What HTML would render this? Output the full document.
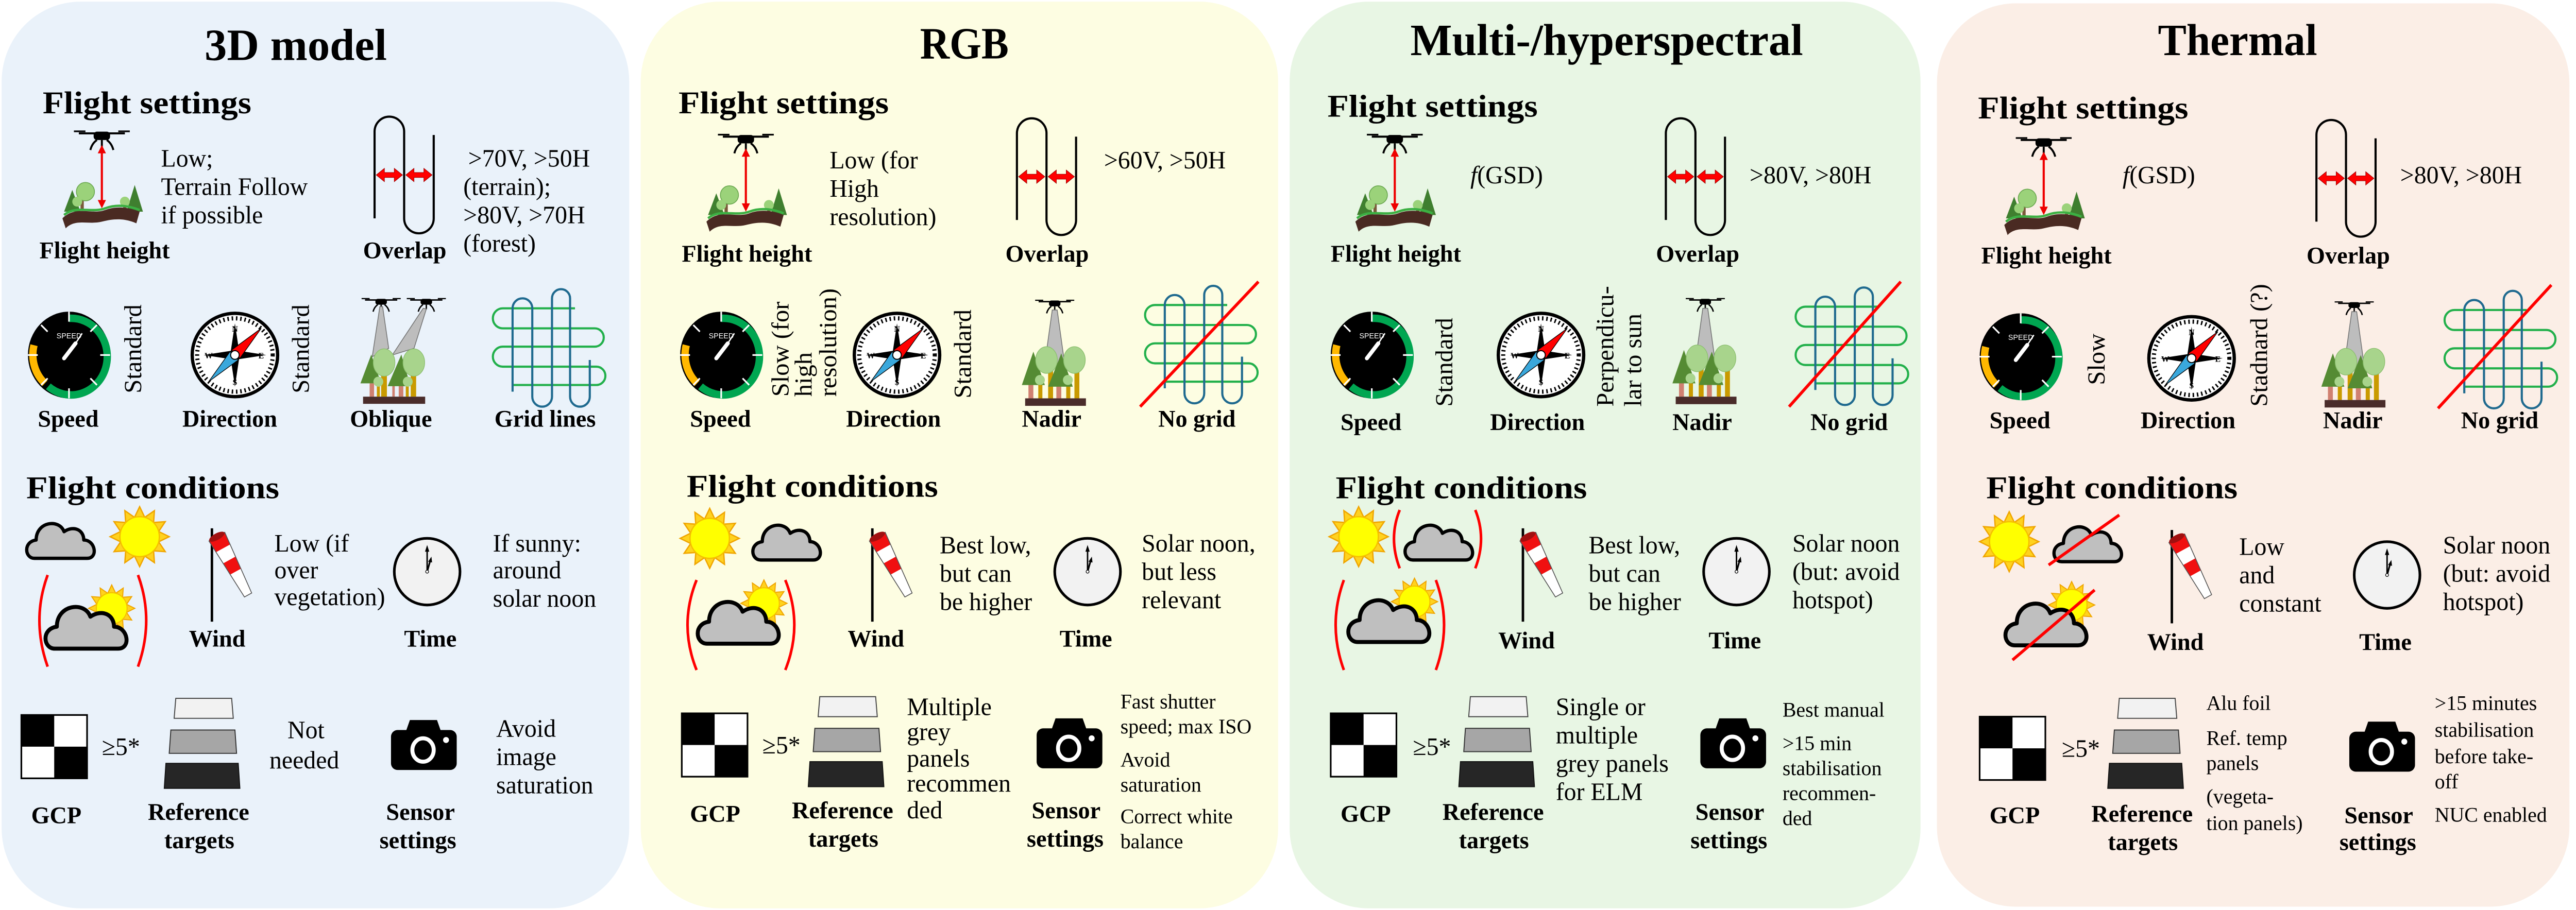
<!DOCTYPE html>
<html><head><meta charset="utf-8"><style>
html,body{margin:0;padding:0;background:#fff;width:100%;height:100%;overflow:hidden;}
svg{display:block;width:100vw;height:100vh;}
text{font-family:"Liberation Serif",serif;fill:#000;}
.t{font-size:27px;font-weight:bold;}
.h{font-size:19px;font-weight:bold;}
.l{font-size:14.5px;font-weight:bold;}
.b{font-size:15px;}
.s{font-size:12.5px;}
</style></head><body>
<svg viewBox="0 0 1568 546" preserveAspectRatio="none" xmlns="http://www.w3.org/2000/svg">
<defs>
<g id="drone">
<line x1="-14" y1="0" x2="14" y2="0" stroke="#000" stroke-width="1.2"/>
<line x1="-17" y1="-1.2" x2="-10" y2="-1.2" stroke="#000" stroke-width="1"/>
<line x1="10" y1="-1.2" x2="17" y2="-1.2" stroke="#000" stroke-width="1"/>
<rect x="-5" y="-1" width="10" height="5" rx="2" fill="#000"/>
<path d="M-3 4 Q-6 6 -7 10 M3 4 Q6 6 7 10 M0 4 V8" stroke="#000" stroke-width="1.2" fill="none"/>
</g>
<g id="height">
<use href="#drone"/>
<line x1="0" y1="10" x2="0" y2="42" stroke="#e00" stroke-width="1.3"/>
<polygon points="0,7 -2.5,12 2.5,12" fill="#e00"/>
<polygon points="0,45 -2.5,40 2.5,40" fill="#e00"/>
<rect x="-13" y="38" width="2" height="8" fill="#7a5a3a"/>
<rect x="13" y="40" width="2" height="7" fill="#7a5a3a"/>
<polygon points="-23,47 -18,34 -13,47" fill="#3f7f2f"/>
<circle cx="-10" cy="35" r="5.5" fill="#9bd27a" stroke="#6aa84f" stroke-width="0.5"/>
<circle cx="-15" cy="41" r="3" fill="#9bd27a"/>
<polygon points="15,47 20,31 25,47" fill="#3f7f2f"/>
<circle cx="14" cy="41" r="3" fill="#9bd27a"/>
<path d="M-24 51 C-16 43 -6 49 2 46 C10 43 18 45 23 47 L21 54 C14 51 8 51 0 53 C-8 55 -16 51 -22 57 Z" fill="#4a2a22"/>
<path d="M-23 49 C-16 43 -6 48 2 45 C10 42 18 44 23 46" stroke="#3cb043" stroke-width="1.4" fill="none"/>
</g>
<g id="overlap">
<path d="M0 61 V9 A9 9 0 0 1 18 9 V61 A9 9 0 0 0 36 61 V11" fill="none" stroke="#000" stroke-width="1.3"/>
<polygon points="1,35 6,31 6,33.5 12,33.5 12,31 17,35 12,39 12,36.5 6,36.5 6,39" fill="#f00" stroke="#900" stroke-width="0.3"/>
<polygon points="19,35 24,31 24,33.5 30,33.5 30,31 35,35 30,39 30,36.5 24,36.5 24,39" fill="#f00" stroke="#900" stroke-width="0.3"/>
</g>
<g id="gauge">
<ellipse cx="0" cy="0" rx="25" ry="26" fill="#000"/>
<path d="M0 -22 A22 23 0 1 1 -12.6 18.8" fill="none" stroke="#00a651" stroke-width="4.5"/>
<path d="M-14.7 17 A22 23 0 0 1 -21.3 -5.9" fill="none" stroke="#ffb800" stroke-width="4.5"/>
<g stroke="#fff" stroke-width="1">
<line x1="0" y1="-26" x2="0" y2="-20"/><line x1="0" y1="26" x2="0" y2="20"/>
<line x1="25" y1="0" x2="19" y2="0"/><line x1="-25" y1="0" x2="-19" y2="0"/>
<line x1="17" y1="-18" x2="13" y2="-14"/><line x1="17" y1="18" x2="13" y2="14"/>
<line x1="-17" y1="18" x2="-13" y2="14"/><line x1="-17" y1="-18" x2="-13" y2="-14"/>
</g>
<text x="0" y="-10" text-anchor="middle" style="font-family:'Liberation Sans',sans-serif;font-size:4.5px;fill:#fff">SPEED</text>
<line x1="-3" y1="2" x2="4" y2="-7" stroke="#fff" stroke-width="2.4" stroke-linecap="round"/>
<line x1="4" y1="-7" x2="8" y2="-13" stroke="#fff" stroke-width="0.8"/>
</g>
<g id="compass">
<ellipse cx="0" cy="0" rx="26" ry="25" fill="#fff" stroke="#000" stroke-width="2"/>
<ellipse cx="0" cy="0" rx="23" ry="22" fill="none" stroke="#000" stroke-width="2.5" stroke-dasharray="0.9 1.7"/>
<polygon points="0,-19 2.5,-2.5 19,0 2.5,2.5 0,19 -2.5,2.5 -19,0 -2.5,-2.5" fill="#000"/>
<polygon points="16,-16 3,2 -2,-3" fill="#f00" stroke="#000" stroke-width="0.4"/>
<polygon points="-16,16 -3,-2 2,3" fill="#3aa8dc" stroke="#000" stroke-width="0.4"/>
<circle r="2.6" fill="#fff" stroke="#000" stroke-width="0.6"/>
<g style="font-family:'Liberation Sans',sans-serif;font-size:5px;font-weight:bold" text-anchor="middle">
<text x="0" y="-14">N</text><text x="0" y="18">S</text><text x="16" y="2">E</text><text x="-16" y="2">W</text>
</g>
</g>
<g id="clock">
<circle r="20" fill="#f2f2f2" stroke="#000" stroke-width="1.6"/>
<line x1="0" y1="0" x2="0" y2="-14" stroke="#000" stroke-width="0.9"/>
<polygon points="0,-16 -1.3,-12 1.3,-12" fill="#000"/>
<line x1="0" y1="0" x2="2" y2="-7" stroke="#000" stroke-width="1"/>
<polygon points="2.6,-9 0.6,-6 3,-5.5" fill="#000"/>
<circle r="0.9" fill="#fff" stroke="#000" stroke-width="0.4"/>
</g>
<path id="cloud" d="M7 26 C1 26 0 16 8 15 C8 4 22 2 25 10 C31 6 37 9 37 15 C44 15 46 26 39 26 Z" fill="#bfbfbf" stroke="#000" stroke-width="2" stroke-linejoin="round"/>
<g id="sun">
<polygon points="18,0 11.59,3.11 15.59,9 8.49,8.49 9,15.59 3.11,11.59 0,18 -3.11,11.59 -9,15.59 -8.49,8.49 -15.59,9 -11.59,3.11 -18,0 -11.59,-3.11 -15.59,-9 -8.49,-8.49 -9,-15.59 -3.11,-11.59 0,-18 3.11,-11.59 9,-15.59 8.49,-8.49 15.59,-9 11.59,-3.11" fill="#ffd21f" stroke="#f0a500" stroke-width="0.8"/>
<circle r="12" fill="#ffff00" stroke="#f5c000" stroke-width="0.8"/>
</g>
<g id="sock">
<line x1="0" y1="0" x2="0" y2="56" stroke="#000" stroke-width="1.5"/>
<polygon points="-1.8,7.6 7.8,2.4 11.08,9.68 2.52,14.32" fill="#f01010"/>
<polygon points="2.52,14.32 11.08,9.68 14.36,16.96 6.84,21.04" fill="#fff"/>
<polygon points="6.84,21.04 14.36,16.96 17.64,24.24 11.16,27.76" fill="#f01010"/>
<polygon points="11.16,27.76 17.64,24.24 24.2,38.8 19.8,41.2" fill="#fff"/>
<polygon points="-1.8,7.6 7.8,2.4 24.2,38.8 19.8,41.2" fill="none" stroke="#555" stroke-width="0.5"/>
<ellipse cx="3" cy="5" rx="5.2" ry="2" transform="rotate(-28 3 5)" fill="#a01010"/>
</g>
<g id="gcp">
<rect x="0" y="0" width="40" height="38" fill="#fff" stroke="#000" stroke-width="1"/>
<rect x="0" y="0" width="20" height="19" fill="#000"/>
<rect x="20" y="19" width="20" height="19" fill="#000"/>
</g>
<g id="targets">
<polygon points="7,0 41,0 42,12 6,12" fill="#f2f2f2" stroke="#444" stroke-width="0.6"/>
<polygon points="4,19 43,19 44,33 3,33" fill="#a6a6a6" stroke="#333" stroke-width="0.6"/>
<polygon points="1,39 45,39 46,54 0,54" fill="#262626" stroke="#111" stroke-width="0.6"/>
</g>
<g id="camera">
<rect x="0" y="6" width="40" height="24" rx="4" fill="#000"/>
<path d="M9 7 L11.5 0 H28 L30.5 7 Z" fill="#000"/>
<ellipse cx="19.5" cy="18" rx="6.5" ry="7" fill="none" stroke="#fff" stroke-width="2.4"/>
<circle cx="33.5" cy="12" r="1.8" fill="#fff"/>
</g>
<g id="nadir">
<use href="#drone" transform="translate(20,3) scale(0.7)"/>
<polygon points="18.5,8 21.5,8 26,40 14,40" fill="#bdbdbd" stroke="#777" stroke-width="0.5"/>
<rect x="4" y="50" width="3" height="11" fill="#d08070"/>
<rect x="10" y="50" width="2.5" height="11" fill="#c99a00"/>
<rect x="16" y="44" width="3" height="17" fill="#c99a00"/>
<rect x="21" y="50" width="3" height="11" fill="#d08070"/>
<rect x="27" y="50" width="2.5" height="11" fill="#c99a00"/>
<rect x="32" y="44" width="3" height="17" fill="#c99a00"/>
<polygon points="0,53 7,33 14,53" fill="#558b33"/>
<ellipse cx="15" cy="38" rx="6.6" ry="8" fill="#a8d48c" stroke="#8cbf6f" stroke-width="0.4"/>
<polygon points="16,54 24,34 31,54" fill="#558b33"/>
<ellipse cx="32" cy="38" rx="6.6" ry="8" fill="#a8d48c" stroke="#8cbf6f" stroke-width="0.4"/>
<circle cx="11" cy="50" r="3" fill="#a8d48c"/>
<circle cx="28" cy="50" r="3" fill="#a8d48c"/>
<rect x="2" y="61" width="37" height="4.5" fill="#4a2c2a"/>
</g>
<g id="grid">
<path d="M50 12 H6 A6 6 0 0 0 6 24 H62 A5.5 5.5 0 0 1 62 35 H6 A6 6 0 0 0 6 47 H63 A5.5 5.5 0 0 1 63 58 H12" fill="none" stroke="#22b04b" stroke-width="1.3"/>
<path d="M12 62 V12 A6 6 0 0 1 24 12 V65 A6 6 0 0 0 36 65 V6 A5.5 5.5 0 0 1 47 6 V65 A6 6 0 0 0 59 65 V43" fill="none" stroke="#1f6a8f" stroke-width="1.3"/>
</g>
<g id="cloudsun">
<use href="#sun" transform="translate(43,11) scale(0.78)"/>
<use href="#cloud" transform="translate(0,4) scale(1.2)"/>
</g>
</defs>

<rect x="1" y="1" width="382" height="544" rx="48" fill="#eaf2fa"/>
<rect x="390" y="1" width="388" height="544" rx="48" fill="#fdfde2"/>
<rect x="785" y="1" width="384" height="544" rx="48" fill="#e8f6e4"/>
<rect x="1179" y="2" width="385" height="542" rx="48" fill="#fbeee6"/>

<!-- Panel 1 -->
<text class="t" x="180" y="36" text-anchor="middle" textLength="111" lengthAdjust="spacingAndGlyphs">3D model</text>
<text class="h" x="26" y="68" textLength="127" lengthAdjust="spacingAndGlyphs">Flight settings</text>
<use href="#height" transform="translate(62,80)"/>
<text class="l" x="24" y="155">Flight height</text>
<text class="b" x="98" y="100">Low;</text>
<text class="b" x="98" y="117">Terrain Follow</text>
<text class="b" x="98" y="134">if possible</text>
<use href="#overlap" transform="translate(228,70)"/>
<text class="l" x="221" y="155">Overlap</text>
<text class="b" x="285" y="100">&gt;70V, &gt;50H</text>
<text class="b" x="282" y="117">(terrain);</text>
<text class="b" x="282" y="134">&gt;80V, &gt;70H</text>
<text class="b" x="282" y="151">(forest)</text>
<use href="#gauge" transform="translate(42,213)"/>
<text class="b" transform="translate(86,236) rotate(-90)">Standard</text>
<use href="#compass" transform="translate(143,213)"/>
<text class="b" transform="translate(188,236) rotate(-90)">Standard</text>
<g>
<use href="#drone" transform="translate(232,180) scale(0.7)"/>
<use href="#drone" transform="translate(259.5,180) scale(0.7)"/>
<polygon points="231.2,184 232.9,184 236.6,209 226.6,214" fill="#bdbdbd" stroke="#777" stroke-width="0.5"/>
<polygon points="257.6,185 259.5,185.4 252,209 238.8,213" fill="#bdbdbd" stroke="#777" stroke-width="0.5"/>
<rect x="225" y="230" width="2.7" height="8" fill="#d08070"/>
<rect x="229.4" y="230" width="1.8" height="8" fill="#c99a00"/>
<rect x="232" y="225" width="3.5" height="13" fill="#c99a00"/>
<rect x="238.8" y="230" width="1.5" height="8" fill="#d08070"/>
<rect x="242.7" y="230" width="2.8" height="8" fill="#d08070"/>
<rect x="247" y="230" width="1.8" height="8" fill="#c99a00"/>
<rect x="250" y="225" width="3.3" height="13" fill="#c99a00"/>
<polygon points="219.4,230 226,212.7 232,230" fill="#558b33"/>
<ellipse cx="233.8" cy="217.5" rx="6.6" ry="8.2" fill="#a8d48c" stroke="#8cbf6f" stroke-width="0.4"/>
<circle cx="230.3" cy="229" r="3" fill="#a8d48c"/>
<polygon points="236,231.7 244.3,212.7 249.9,231.7" fill="#558b33"/>
<ellipse cx="251.9" cy="217.5" rx="6.6" ry="8.2" fill="#a8d48c" stroke="#8cbf6f" stroke-width="0.4"/>
<circle cx="248.2" cy="229" r="3" fill="#a8d48c"/>
<rect x="221" y="238" width="37.8" height="4.3" fill="#4a2c2a"/>
</g>
<use href="#grid" transform="translate(300,173)"/>
<text class="l" x="23" y="256">Speed</text>
<text class="l" x="111" y="256">Direction</text>
<text class="l" x="213" y="256">Oblique</text>
<text class="l" x="301" y="256">Grid lines</text>

<text class="h" x="16" y="299" textLength="154" lengthAdjust="spacingAndGlyphs">Flight conditions</text>
<use href="#cloud" transform="translate(14,309)"/>
<use href="#sun" transform="translate(85,322)"/>
<path d="M29 345 Q19 372 29 400 M84 345 Q94 372 84 400" fill="none" stroke="#f00" stroke-width="1.6"/>
<use href="#cloudsun" transform="translate(25,354)"/>
<use href="#sock" transform="translate(129,317)"/>
<text class="l" x="115" y="388">Wind</text>
<text class="b" x="167" y="331">Low (if</text>
<text class="b" x="167" y="347">over</text>
<text class="b" x="167" y="363">vegetation)</text>
<use href="#clock" transform="translate(260,343)"/>
<text class="l" x="246" y="388">Time</text>
<text class="b" x="300" y="331">If sunny:</text>
<text class="b" x="300" y="347">around</text>
<text class="b" x="300" y="364">solar noon</text>
<use href="#gcp" transform="translate(13,429)"/>
<text class="b" x="62" y="453">≥5*</text>
<text class="l" x="19" y="494">GCP</text>
<use href="#targets" transform="translate(100,419)"/>
<text class="l" x="90" y="492">Reference</text>
<text class="l" x="100" y="509">targets</text>
<text class="b" x="175" y="443">Not</text>
<text class="b" x="164" y="461">needed</text>
<use href="#camera" transform="translate(238,432)"/>
<text class="l" x="235" y="492">Sensor</text>
<text class="l" x="231" y="509">settings</text>
<text class="b" x="302" y="442">Avoid</text>
<text class="b" x="302" y="459">image</text>
<text class="b" x="302" y="476">saturation</text>

<!-- Panel 2 -->
<text class="t" x="587" y="35" text-anchor="middle" textLength="54" lengthAdjust="spacingAndGlyphs">RGB</text>
<text class="h" x="413" y="68" textLength="128" lengthAdjust="spacingAndGlyphs">Flight settings</text>
<use href="#height" transform="translate(454,82)"/>
<text class="l" x="415" y="157">Flight height</text>
<text class="b" x="505" y="101">Low (for</text>
<text class="b" x="505" y="118">High</text>
<text class="b" x="505" y="135">resolution)</text>
<use href="#overlap" transform="translate(619,71)"/>
<text class="l" x="612" y="157">Overlap</text>
<text class="b" x="672" y="101">&gt;60V, &gt;50H</text>
<use href="#gauge" transform="translate(439,213)"/>
<text class="b" transform="translate(480,238) rotate(-90)">Slow (for</text>
<text class="b" transform="translate(494,238) rotate(-90)">high</text>
<text class="b" transform="translate(509,238) rotate(-90)">resolution)</text>
<use href="#compass" transform="translate(546,213)"/>
<text class="b" transform="translate(591,239) rotate(-90)">Standard</text>
<use href="#nadir" transform="translate(622,178)"/>
<use href="#grid" transform="translate(697,171)"/>
<line x1="694" y1="244" x2="766" y2="169" stroke="#f00" stroke-width="1.8"/>
<text class="l" x="420" y="256">Speed</text>
<text class="l" x="515" y="256">Direction</text>
<text class="l" x="622" y="256">Nadir</text>
<text class="l" x="705" y="256">No grid</text>

<text class="h" x="418" y="298" textLength="153" lengthAdjust="spacingAndGlyphs">Flight conditions</text>
<use href="#sun" transform="translate(432,323)"/>
<use href="#cloud" transform="translate(456,310)"/>
<path d="M424 348 Q413 375 424 402 M478 348 Q489 375 478 402" fill="none" stroke="#f00" stroke-width="1.6"/>
<use href="#cloudsun" transform="translate(422,351)"/>
<use href="#sock" transform="translate(531,317)"/>
<text class="l" x="516" y="388">Wind</text>
<text class="b" x="572" y="332">Best low,</text>
<text class="b" x="572" y="349">but can</text>
<text class="b" x="572" y="366">be higher</text>
<use href="#clock" transform="translate(662,343)"/>
<text class="l" x="645" y="388">Time</text>
<text class="b" x="695" y="331">Solar noon,</text>
<text class="b" x="695" y="348">but less</text>
<text class="b" x="695" y="365">relevant</text>
<use href="#gcp" transform="translate(415,428)"/>
<text class="b" x="464" y="452">≥5*</text>
<text class="l" x="420" y="493">GCP</text>
<use href="#targets" transform="translate(492,418)"/>
<text class="l" x="482" y="491">Reference</text>
<text class="l" x="492" y="508">targets</text>
<text class="b" x="552" y="429">Multiple</text>
<text class="b" x="552" y="444">grey</text>
<text class="b" x="552" y="460">panels</text>
<text class="b" x="552" y="475">recommen</text>
<text class="b" x="552" y="491">ded</text>
<use href="#camera" transform="translate(631,431)"/>
<text class="l" x="628" y="491">Sensor</text>
<text class="l" x="625" y="508">settings</text>
<text class="s" x="682" y="425">Fast shutter</text>
<text class="s" x="682" y="440">speed; max ISO</text>
<text class="s" x="682" y="460">Avoid</text>
<text class="s" x="682" y="475">saturation</text>
<text class="s" x="682" y="494">Correct white</text>
<text class="s" x="682" y="509">balance</text>

<!-- Panel 3 -->
<text class="t" x="978" y="33" text-anchor="middle" textLength="239" lengthAdjust="spacingAndGlyphs">Multi-/hyperspectral</text>
<text class="h" x="808" y="70" textLength="128" lengthAdjust="spacingAndGlyphs">Flight settings</text>
<use href="#height" transform="translate(849,82)"/>
<text class="l" x="810" y="157">Flight height</text>
<text class="b" x="895" y="110"><tspan font-style="italic">f</tspan>(GSD)</text>
<use href="#overlap" transform="translate(1014,71)"/>
<text class="l" x="1008" y="157">Overlap</text>
<text class="b" x="1065" y="110">&gt;80V, &gt;80H</text>
<use href="#gauge" transform="translate(835,213)"/>
<text class="b" transform="translate(884,244) rotate(-90)">Standard</text>
<use href="#compass" transform="translate(938,213)"/>
<text class="b" transform="translate(982,244) rotate(-90)">Perpendicu-</text>
<text class="b" transform="translate(999,244) rotate(-90)">lar to sun</text>
<use href="#nadir" transform="translate(1018,177)"/>
<use href="#grid" transform="translate(1093,172)"/>
<line x1="1089" y1="244" x2="1157" y2="169" stroke="#f00" stroke-width="1.8"/>
<text class="l" x="816" y="258">Speed</text>
<text class="l" x="907" y="258">Direction</text>
<text class="l" x="1018" y="258">Nadir</text>
<text class="l" x="1102" y="258">No grid</text>

<text class="h" x="813" y="299" textLength="153" lengthAdjust="spacingAndGlyphs">Flight conditions</text>
<use href="#sun" transform="translate(827,322)"/>
<path d="M852 306 Q845 323 852 341 M898 306 Q905 323 898 341" fill="none" stroke="#f00" stroke-width="1.6"/>
<use href="#cloud" transform="translate(853,310)"/>
<path d="M818 348 Q808 375 818 402 M874 348 Q884 375 874 402" fill="none" stroke="#f00" stroke-width="1.6"/>
<use href="#cloudsun" transform="translate(818,350)"/>
<use href="#sock" transform="translate(927,317)"/>
<text class="l" x="912" y="389">Wind</text>
<text class="b" x="967" y="332">Best low,</text>
<text class="b" x="967" y="349">but can</text>
<text class="b" x="967" y="366">be higher</text>
<use href="#clock" transform="translate(1057,343)"/>
<text class="l" x="1040" y="389">Time</text>
<text class="b" x="1091" y="331">Solar noon</text>
<text class="b" x="1091" y="348">(but: avoid</text>
<text class="b" x="1091" y="365">hotspot)</text>
<use href="#gcp" transform="translate(810,428)"/>
<text class="b" x="860" y="453">≥5*</text>
<text class="l" x="816" y="493">GCP</text>
<use href="#targets" transform="translate(888,418)"/>
<text class="l" x="878" y="492">Reference</text>
<text class="l" x="888" y="509">targets</text>
<text class="b" x="947" y="429">Single or</text>
<text class="b" x="947" y="446">multiple</text>
<text class="b" x="947" y="463">grey panels</text>
<text class="b" x="947" y="480">for ELM</text>
<use href="#camera" transform="translate(1035,431)"/>
<text class="l" x="1032" y="492">Sensor</text>
<text class="l" x="1029" y="509">settings</text>
<text class="s" x="1085" y="430">Best manual</text>
<text class="s" x="1085" y="450">&gt;15 min</text>
<text class="s" x="1085" y="465">stabilisation</text>
<text class="s" x="1085" y="480">recommen-</text>
<text class="s" x="1085" y="495">ded</text>

<!-- Panel 4 -->
<text class="t" x="1362" y="33" text-anchor="middle" textLength="97" lengthAdjust="spacingAndGlyphs">Thermal</text>
<text class="h" x="1204" y="71" textLength="128" lengthAdjust="spacingAndGlyphs">Flight settings</text>
<use href="#height" transform="translate(1244,84)"/>
<text class="l" x="1206" y="158">Flight height</text>
<text class="b" x="1292" y="110"><tspan font-style="italic">f</tspan>(GSD)</text>
<use href="#overlap" transform="translate(1410,72)"/>
<text class="l" x="1404" y="158">Overlap</text>
<text class="b" x="1461" y="110">&gt;80V, &gt;80H</text>
<use href="#gauge" transform="translate(1230,214)"/>
<text class="b" transform="translate(1281,231) rotate(-90)">Slow</text>
<use href="#compass" transform="translate(1334,215)"/>
<text class="b" transform="translate(1380,244) rotate(-90)">Stadnard (?)</text>
<use href="#nadir" transform="translate(1413,179)"/>
<use href="#grid" transform="translate(1488,174)"/>
<line x1="1484" y1="245" x2="1553" y2="171" stroke="#f00" stroke-width="1.8"/>
<text class="l" x="1211" y="257">Speed</text>
<text class="l" x="1303" y="257">Direction</text>
<text class="l" x="1414" y="257">Nadir</text>
<text class="l" x="1498" y="257">No grid</text>

<text class="h" x="1209" y="299" textLength="153" lengthAdjust="spacingAndGlyphs">Flight conditions</text>
<use href="#sun" transform="translate(1223,325)"/>
<use href="#cloud" transform="translate(1248,311)"/>
<line x1="1247" y1="339" x2="1290" y2="309" stroke="#f00" stroke-width="1.8"/>
<use href="#cloudsun" transform="translate(1218,352)"/>
<line x1="1225" y1="396" x2="1275" y2="354" stroke="#f00" stroke-width="1.8"/>
<use href="#sock" transform="translate(1322,318)"/>
<text class="l" x="1307" y="390">Wind</text>
<text class="b" x="1363" y="333">Low</text>
<text class="b" x="1363" y="350">and</text>
<text class="b" x="1363" y="367">constant</text>
<use href="#clock" transform="translate(1453,345)"/>
<text class="l" x="1436" y="390">Time</text>
<text class="b" x="1487" y="332">Solar noon</text>
<text class="b" x="1487" y="349">(but: avoid</text>
<text class="b" x="1487" y="366">hotspot)</text>
<use href="#gcp" transform="translate(1205,430)"/>
<text class="b" x="1255" y="454">≥5*</text>
<text class="l" x="1211" y="494">GCP</text>
<use href="#targets" transform="translate(1283,419)"/>
<text class="l" x="1273" y="493">Reference</text>
<text class="l" x="1283" y="510">targets</text>
<text class="s" x="1343" y="426">Alu foil</text>
<text class="s" x="1343" y="447">Ref. temp</text>
<text class="s" x="1343" y="462">panels</text>
<text class="s" x="1343" y="482">(vegeta-</text>
<text class="s" x="1343" y="498">tion panels)</text>
<use href="#camera" transform="translate(1430,433)"/>
<text class="l" x="1427" y="494">Sensor</text>
<text class="l" x="1424" y="510">settings</text>
<text class="s" x="1482" y="426">&gt;15 minutes</text>
<text class="s" x="1482" y="442">stabilisation</text>
<text class="s" x="1482" y="458">before take-</text>
<text class="s" x="1482" y="473">off</text>
<text class="s" x="1482" y="493">NUC enabled</text>
</svg>
</body></html>
